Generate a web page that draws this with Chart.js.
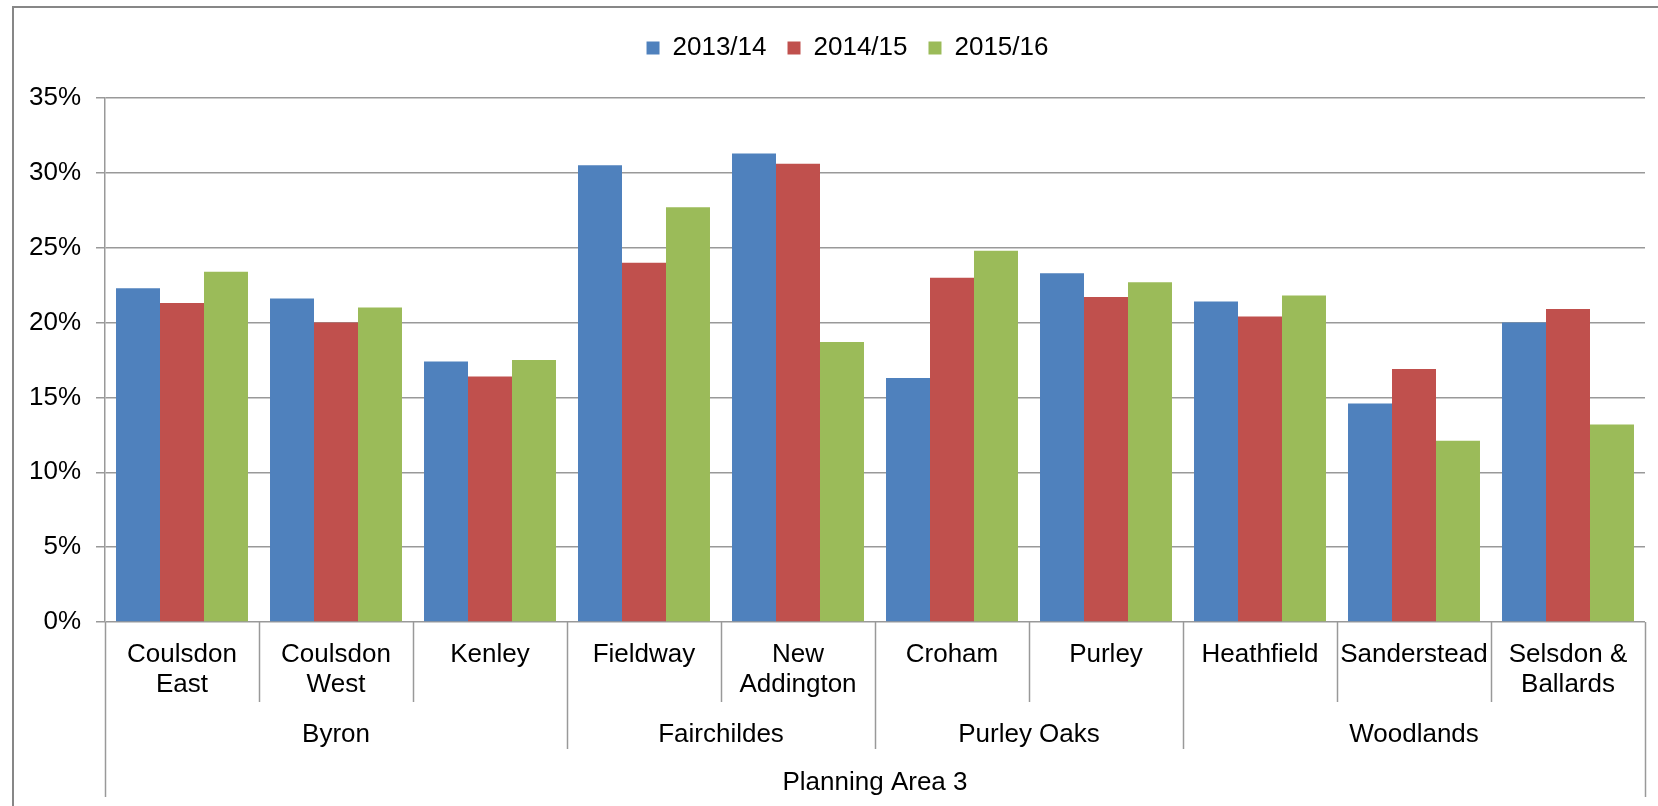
<!DOCTYPE html>
<html>
<head>
<meta charset="utf-8">
<script src="https://cdn.jsdelivr.net/npm/chart.js@4"></script>
<style>
  html, body { margin: 0; padding: 0; background: #fff; }
  #wrap { width: 1658px; height: 806px; position: relative; }
</style>
</head>
<body>
<div id="wrap"><canvas id="chart"></canvas></div>
<script>
// Wards (bottom level), their groups (middle level) and the area (top level)
const wards = [
  ["Coulsdon", "East"], ["Coulsdon", "West"], "Kenley", "Fieldway",
  ["New", "Addington"], "Croham", "Purley", "Heathfield", "Sanderstead",
  ["Selsdon &", "Ballards"]
];
const groups = ["Byron", "Fairchildes", "Purley Oaks", "Woodlands"];
const groupSizes = [3, 2, 2, 3];
const areaLabel = "Planning Area 3";

const seriesNames = ["2013/14", "2014/15", "2015/16"];
const values1314 = [22.3, 21.6, 17.4, 30.5, 31.3, 16.3, 23.3, 21.4, 14.6, 20.0];
const values1415 = [21.3, 20.0, 16.4, 24.0, 30.6, 23.0, 21.7, 20.4, 16.9, 20.9];
const values1516 = [23.4, 21.0, 17.5, 27.7, 18.7, 24.8, 22.7, 21.8, 12.1, 13.2];
const yTicks = [0, 5, 10, 15, 20, 25, 30, 35];

const colours = ["#4f81bd", "#c0504d", "#9bbb59"];
const FONT = '"Liberation Sans", Arial, sans-serif';
const lineGrey = "#999999";

// Legend takes the whole band above the plot, centred on the (cropped) frame
const legendBand = {
  id: "legendBand",
  beforeInit(chart) {
    const fit = chart.legend.fit;
    chart.legend.fit = function () {
      fit.bind(chart.legend)();
      this.height = 84;
    };
  },
  afterLayout(chart) {
    chart.legend.left = 50;
    chart.legend.right = 1645;
  }
};

// Frame, category / group separators and the extra label rows
const axisLevels = {
  id: "axisLevels",
  afterDraw(chart) {
    const ctx = chart.ctx;
    const x = chart.scales.x;
    const bottom = chart.chartArea.bottom;
    const half = (x.getPixelForValue(1) - x.getPixelForValue(0)) / 2;
    const edge = (i) => x.getPixelForValue(i) - half;

    const starts = [0];
    groupSizes.forEach((n) => starts.push(starts[starts.length - 1] + n));

    ctx.save();
    // outer chart frame (cut off at right and bottom)
    ctx.strokeStyle = "#878787";
    ctx.lineWidth = 2;
    ctx.beginPath();
    ctx.moveTo(13, chart.height);
    ctx.lineTo(13, 7);
    ctx.lineTo(chart.width, 7);
    ctx.stroke();

    ctx.strokeStyle = lineGrey;
    ctx.lineWidth = 1.5;
    for (let i = 0; i <= wards.length; i++) {
      let len = 80;
      if (starts.includes(i)) len = 127;
      if (i === 0 || i === wards.length) len = 175;
      const px = Math.round(edge(i)) + 0.5;
      ctx.beginPath();
      ctx.moveTo(px, bottom);
      ctx.lineTo(px, bottom + len);
      ctx.stroke();
    }

    ctx.font = "26px " + FONT;
    ctx.fillStyle = "#000";
    ctx.textAlign = "center";
    ctx.textBaseline = "middle";
    groups.forEach((g, k) => {
      const cx = (edge(starts[k]) + edge(starts[k + 1])) / 2;
      ctx.fillText(g, cx, bottom + 113);
    });
    ctx.fillText(areaLabel, (edge(0) + edge(wards.length)) / 2, bottom + 161);
    ctx.restore();
  }
};

const ctx = document.getElementById("chart").getContext("2d");
new Chart(ctx, {
  type: "bar",
  data: {
    labels: wards,
    datasets: [values1314, values1415, values1516].map((vals, i) => ({
      label: seriesNames[i],
      data: vals,
      backgroundColor: colours[i],
      borderWidth: 0,
      categoryPercentage: 0.857,
      barPercentage: 1.0
    }))
  },
  options: {
    responsive: true,
    maintainAspectRatio: false,
    animation: false,
    layout: { padding: { top: 14, left: 0, right: 13, bottom: 0 } },
    plugins: {
      legend: {
        position: "top",
        labels: {
          boxWidth: 13,
          boxHeight: 13,
          padding: 21,
          color: "#000",
          font: { family: FONT, size: 26 }
        }
      },
      tooltip: { enabled: false }
    },
    scales: {
      x: {
        grid: { display: false, drawTicks: false },
        border: { display: false },
        ticks: {
          color: "#000",
          padding: 18,
          maxRotation: 0,
          autoSkip: false,
          font: { family: FONT, size: 26, lineHeight: "30px" }
        },
        afterFit(scale) { scale.height = 184; }
      },
      y: {
        min: 0,
        max: 35,
        afterBuildTicks(scale) {
          scale.ticks = yTicks.map((v) => ({ value: v }));
        },
        grid: { color: lineGrey, lineWidth: 1.5, tickLength: 9 },
        border: { color: lineGrey, width: 1.5 },
        ticks: {
          color: "#000",
          padding: 15,
          font: { family: FONT, size: 26 },
          callback: (v) => v + "%"
        },
        afterFit(scale) { scale.width = 105; }
      }
    }
  },
  plugins: [legendBand, axisLevels]
});
</script>
</body>
</html>
